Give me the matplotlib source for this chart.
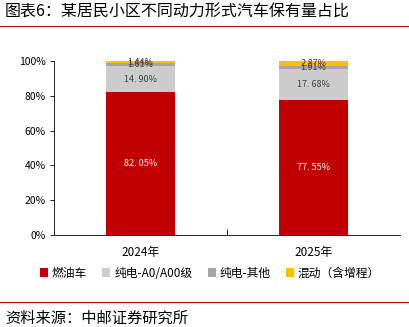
import matplotlib.pyplot as plt
import numpy as np

plt.rcParams['font.family'] = ['Noto Sans CJK SC', 'DejaVu Sans']

years = ['2024年', '2025年']
series_names = ['燃油车', '纯电-A0/A00级', '纯电-其他', '混动（含增程）']
fuel = [82.05, 77.55]
ev_small = [14.90, 17.68]
ev_other = [1.61, 1.91]
hybrid = [1.44, 2.87]
colors = ['#C00000', '#CCCCCC', '#A6A6A6', '#FFC000']

fig = plt.figure(figsize=(4.10, 3.27), dpi=100)
ax = fig.add_axes([0.132, 0.281, 0.844, 0.533])

x = np.arange(len(years))
bottom = np.zeros(len(years))
for vals, name, c in zip([fuel, ev_small, ev_other, hybrid], series_names, colors):
    ax.bar(x, vals, 0.4, bottom=bottom, color=c, label=name)
    for xi, v, b in zip(x, vals, bottom):
        tc = 'white' if c == '#C00000' else '#404040'
        ax.text(xi, b + v / 2, f'{v:.2f}%'.replace('.', '. ') if v > 5 else f'{v:.2f}%',
                ha='center', va='center', fontsize=6.5, color=tc)
    bottom += np.array(vals)

ax.set_xlim(-0.5, 1.5)
ax.set_ylim(0, 100)
ax.set_yticks(np.arange(0, 101, 20))
ax.set_yticklabels([f'{v}%' for v in range(0, 101, 20)], fontsize=7.5)
ax.set_xticks(x)
ax.set_xticklabels(years, fontsize=8.5)
ax.tick_params(axis='x', length=0, pad=8)
ax.set_xticks([0.5], minor=True)
ax.tick_params(axis='x', which='minor', length=4, direction='in')
ax.tick_params(axis='y', length=3, width=0.6, pad=3)
for s in ['top', 'right']:
    ax.spines[s].set_visible(False)
ax.spines['left'].set_linewidth(0.6)
ax.spines['bottom'].set_linewidth(0.6)

ax.legend(loc='upper center', bbox_to_anchor=(0.45, -0.12), ncol=4, frameon=False,
          fontsize=8.5, handlelength=0.7, handleheight=0.7, handletextpad=0.3,
          columnspacing=1.3)

fig.text(0.012, 0.963, '图表6：某居民小区不同动力形式汽车保有量占比', fontsize=11.5, va='center')
fig.add_artist(plt.Line2D([0, 1], [0.922, 0.922], color='#C00000', lw=0.8))
fig.add_artist(plt.Line2D([0, 1], [0.077, 0.077], color='#C00000', lw=0.8))
fig.text(0.012, 0.028, '资料来源：中邮证券研究所', fontsize=11, va='center')

fig.savefig('out.png', dpi=100)
